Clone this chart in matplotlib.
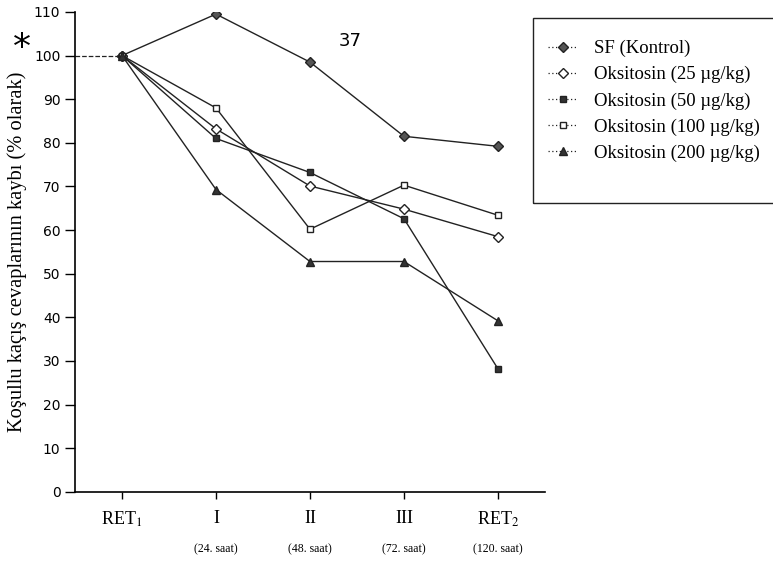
import numpy as np
import matplotlib
matplotlib.use("Agg")
from matplotlib import pyplot as plt
from matplotlib.lines import Line2D
from matplotlib.patches import Rectangle

# data (% of response kept, per session)
sessions = ['RET$_1$', 'I', 'II', 'III', 'RET$_2$']
hours = ['', '(24. saat)', '(48. saat)', '(72. saat)', '(120. saat)']
sf_kontrol = [100, 109.5, 98.5, 81.5, 79.2]
oks_25 = [100, 83.2, 70.1, 64.8, 58.5]
oks_50 = [100, 81.0, 73.2, 62.6, 28.2]
oks_100 = [100, 88.0, 60.2, 70.3, 63.4]
oks_200 = [100, 69.3, 52.8, 52.8, 39.2]

names = ['SF (Kontrol)', 'Oksitosin (25 \u00b5g/kg)', 'Oksitosin (50 \u00b5g/kg)',
         'Oksitosin (100 \u00b5g/kg)', 'Oksitosin (200 \u00b5g/kg)']
series = [sf_kontrol, oks_25, oks_50, oks_100, oks_200]
# marker, facecolor, size
styles = [('D', '#555555', 5), ('D', 'white', 5), ('s', '#333333', 5),
          ('s', 'white', 5), ('^', '#333333', 6)]

plt.rcParams['mathtext.fontset'] = 'stix'
serif = 'Liberation Serif'

fig = plt.figure(figsize=(7.73, 5.68), dpi=100)
ax = fig.add_axes([0.097, 0.134, 0.608, 0.845])
x = np.arange(len(sessions))

for vals, (m, fc, ms) in zip(series, styles):
    ax.plot(x, vals, color='#222222', lw=1.0, marker=m, ms=ms,
            mfc=fc, mec='#222222', mew=1.0)

# dashed line from the axis to the RET1 point
ax.plot([-0.5, x[0]], [sf_kontrol[0], sf_kontrol[0]], '--', color='#222222', lw=0.9)

ax.set_xlim(-0.5, 4.5)
ax.set_ylim(0, 110)
ax.set_yticks(np.arange(0, 111, 10))
ax.tick_params(axis='y', labelsize=10, length=7, width=1, direction='out')
ax.tick_params(axis='x', length=5, width=1, direction='out', pad=8)
ax.set_xticks(x)
ax.set_xticklabels(sessions, fontsize=13, family=serif)
ax.spines['top'].set_visible(False)
ax.spines['right'].set_visible(False)
for sp in ['left', 'bottom']:
    ax.spines[sp].set_linewidth(1.2)

for xi, h in zip(x, hours):
    ax.text(xi, -0.12, h, transform=ax.get_xaxis_transform(), ha='center',
            va='center', fontsize=8.5, family=serif)

ax.set_ylabel('Koşullu kaçış cevaplarının kaybı (% olarak)', fontsize=14.8,
              family=serif, labelpad=5)

fig.text(0.028, 0.915, '*', fontsize=26, ha='center', va='center')
fig.text(0.453, 0.928, '37', fontsize=13, ha='center', va='center')

# legend box runs off the right edge of the page
fig.patches.append(Rectangle((533 / 773, 1 - 203 / 568), 0.4, 185 / 568,
                             transform=fig.transFigure, fill=False,
                             edgecolor='#222222', lw=1.0))
handles = [Line2D([], [], color='#222222', ls=(0, (1, 2)), lw=0.9, marker=m,
                  ms=ms, mfc=fc, mec='#222222') for (m, fc, ms) in styles]
fig.legend(handles, names, loc='upper left', bbox_to_anchor=(548 / 773, 1 - 40 / 568),
           frameon=False, prop={'family': serif, 'size': 13.5}, handlelength=1.6,
           borderpad=0, labelspacing=0.47, handletextpad=0.85, borderaxespad=0)

fig.savefig('out.png', dpi=100)
